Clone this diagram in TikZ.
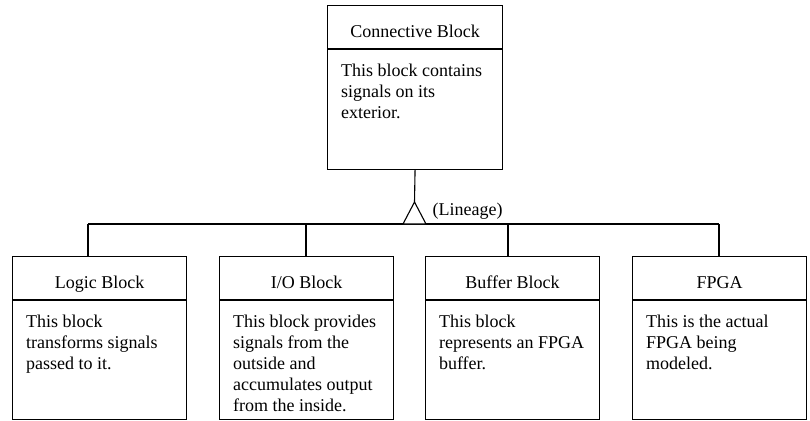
\documentclass[tikz,border=0pt]{standalone}
\usepackage{fontspec}
\setmainfont{Liberation Serif}
\usetikzlibrary{calc}

% One class box: name, left, right, top, bottom, title, body lines
\newcommand\umlblock[7]{%
  \node[frame, minimum width=#3-#2, minimum height=#5-#4] (#1) at (#2,#4) {};
  \draw ($(#1.north west)+(0,44)$) -- ($(#1.north east)+(0,44)$);
  \node[heading] (#1-title) at ($(#1.north)+(0,32.5)$) {#6};
  \node[bodytext] (#1-body) at ($(#1.north west)+(13.5,58.6)$) {#7};
}

\begin{document}
\begin{tikzpicture}[x=1pt,y=-1pt,
  line width=1.1pt,
  frame/.style={draw, rectangle, inner sep=0pt, anchor=north west},
  heading/.style={anchor=base, inner sep=0pt, font=\fontsize{18}{21}\selectfont},
  bodytext/.style={anchor=north west, align=left, inner sep=0pt, font=\fontsize{18}{21}\selectfont},
  label/.style={anchor=base west, inner sep=0pt, font=\fontsize{18}{21}\selectfont},
]
\useasboundingbox (0,0) rectangle (810,420);

% parent class
\umlblock{conn}{327}{502}{5}{169}{Connective Block}{This block contains\\signals on its\\exterior.}

% child classes
\umlblock{logic}{12}{186}{256}{419}{Logic Block}{This block\\transforms signals\\passed to it.}
\umlblock{io}{219}{393}{256}{419}{I/O Block}{This block provides\\signals from the\\outside and\\accumulates output\\from the inside.}
\umlblock{buffer}{425}{599}{256}{419}{Buffer Block}{This block\\represents an FPGA\\buffer.}
\umlblock{fpga}{632}{806}{256}{419}{FPGA}{This is the actual\\FPGA being\\modeled.}

% generalization: triangle and shared bus
\coordinate (apex) at (414.5,202);
\coordinate (jl) at (88,224);
\coordinate (ji) at (306,224);
\coordinate (jb) at (508,224);
\coordinate (jf) at (719,224);

\draw (conn.south) -- (apex);
\draw (jl) -- (jf);
\draw[fill=white, line join=miter] (apex) -- ++(-11.5,22) -- ++(23,0) -- cycle;
\node[label] (lineage) at (432,215) {(Lineage)};

\draw (jl) -- (jl |- logic.north);
\draw (ji) -- (ji |- io.north);
\draw (jb) -- (jb |- buffer.north);
\draw (jf) -- (jf |- fpga.north);
\end{tikzpicture}
\end{document}
